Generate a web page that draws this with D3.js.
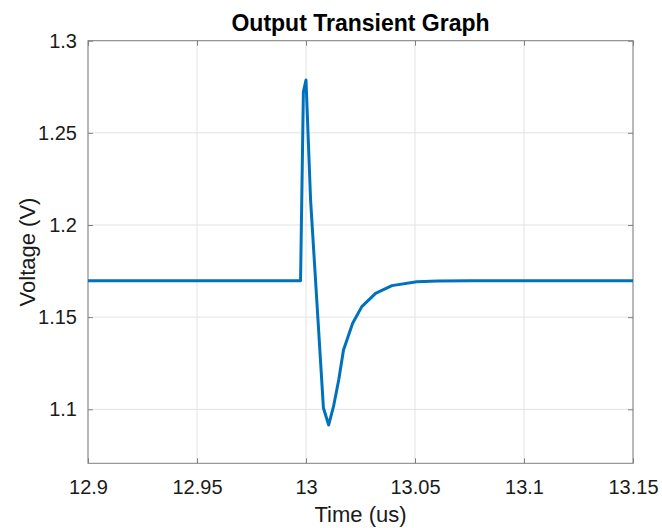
<!DOCTYPE html>
<html>
<head>
<meta charset="utf-8">
<script src="https://cdn.jsdelivr.net/npm/d3@7"></script>
<style>
  html, body { margin: 0; padding: 0; background: #fff; }
  svg { display: block; font-family: "Liberation Sans", Arial, Helvetica, sans-serif; }
</style>
</head>
<body>
<svg id="chart" width="662" height="528"></svg>
<script>
// Output voltage transient (time in microseconds, voltage in volts)
const timeUs = [12.9, 12.9975, 12.9988, 13.0000, 13.0021, 13.0080, 13.0104, 13.0126,
                13.0150, 13.0172, 13.0214, 13.0256, 13.0319, 13.0394, 13.0508,
                13.0606, 13.0753, 13.15];
const voltage = [1.1698, 1.1698, 1.2723, 1.2787, 1.2136, 1.1007, 1.0915, 1.1014,
                 1.1159, 1.1322, 1.1467, 1.1557, 1.1629, 1.1671, 1.1692,
                 1.1696, 1.1698, 1.1698];
const xTicks = [12.9, 12.95, 13, 13.05, 13.1, 13.15];
const yTicks = [1.1, 1.15, 1.2, 1.25, 1.3];
const xDomain = [12.9, 13.15];
const yDomain = [1.0707, 1.3];

const svg = d3.select("#chart");
const plotL = 88, plotR = 633, plotT = 40.7, plotB = 463.3;

const x = d3.scaleLinear().domain(xDomain).range([plotL, plotR]);
const y = d3.scaleLinear().domain(yDomain).range([plotB, plotT]);

const fmt = d => String(+d.toFixed(2));

// grid
svg.append("g").selectAll("line").data(xTicks).join("line")
  .attr("x1", d => x(d)).attr("x2", d => x(d))
  .attr("y1", plotT).attr("y2", plotB)
  .attr("stroke", "#e3e3e3").attr("stroke-width", 1);
svg.append("g").selectAll("line").data(yTicks).join("line")
  .attr("x1", plotL).attr("x2", plotR)
  .attr("y1", d => y(d)).attr("y2", d => y(d))
  .attr("stroke", "#e3e3e3").attr("stroke-width", 1);

// axes with inward ticks
const axisColor = "#808080";
const tickLen = 5;
function styleAxis(g) {
  g.select(".domain").remove();
  g.selectAll(".tick line").attr("stroke", axisColor);
  g.selectAll(".tick text").attr("fill", "#1a1a1a").attr("font-size", 20)
    .attr("font-family", "Liberation Sans, Arial, sans-serif");
}
svg.append("g").attr("transform", `translate(0,${plotB})`)
  .call(d3.axisBottom(x).tickValues(xTicks).tickFormat(fmt).tickSizeInner(-tickLen).tickSizeOuter(0).tickPadding(17))
  .call(styleAxis);
svg.append("g").attr("transform", `translate(0,${plotT})`)
  .call(d3.axisTop(x).tickValues(xTicks).tickFormat("").tickSizeInner(-tickLen).tickSizeOuter(0))
  .call(styleAxis);
svg.append("g").attr("transform", `translate(${plotL},0)`)
  .call(d3.axisLeft(y).tickValues(yTicks).tickFormat(fmt).tickSizeInner(-tickLen).tickSizeOuter(0).tickPadding(11))
  .call(styleAxis);
svg.append("g").attr("transform", `translate(${plotR},0)`)
  .call(d3.axisRight(y).tickValues(yTicks).tickFormat("").tickSizeInner(-tickLen).tickSizeOuter(0))
  .call(styleAxis);

// box
svg.append("rect")
  .attr("x", plotL).attr("y", plotT)
  .attr("width", plotR - plotL).attr("height", plotB - plotT)
  .attr("fill", "none").attr("stroke", axisColor).attr("stroke-width", 1);

// data line
const pts = timeUs.map((t, i) => [t, voltage[i]]);
svg.append("path")
  .datum(pts)
  .attr("fill", "none")
  .attr("stroke", "#0072BD")
  .attr("stroke-width", 3)
  .attr("stroke-linejoin", "round")
  .attr("d", d3.line().x(d => x(d[0])).y(d => y(d[1])));

// labels
svg.append("text")
  .attr("x", (plotL + plotR) / 2).attr("y", 31)
  .attr("text-anchor", "middle").attr("font-size", 23).attr("font-weight", "bold")
  .attr("fill", "#000").text("Output Transient Graph");
svg.append("text")
  .attr("x", (plotL + plotR) / 2).attr("y", 522)
  .attr("text-anchor", "middle").attr("font-size", 22).attr("fill", "#1a1a1a")
  .text("Time (us)");
svg.append("text")
  .attr("transform", `translate(35,${(plotT + plotB) / 2}) rotate(-90)`)
  .attr("text-anchor", "middle").attr("font-size", 22).attr("fill", "#1a1a1a")
  .text("Voltage (V)");
</script>
</body>
</html>
